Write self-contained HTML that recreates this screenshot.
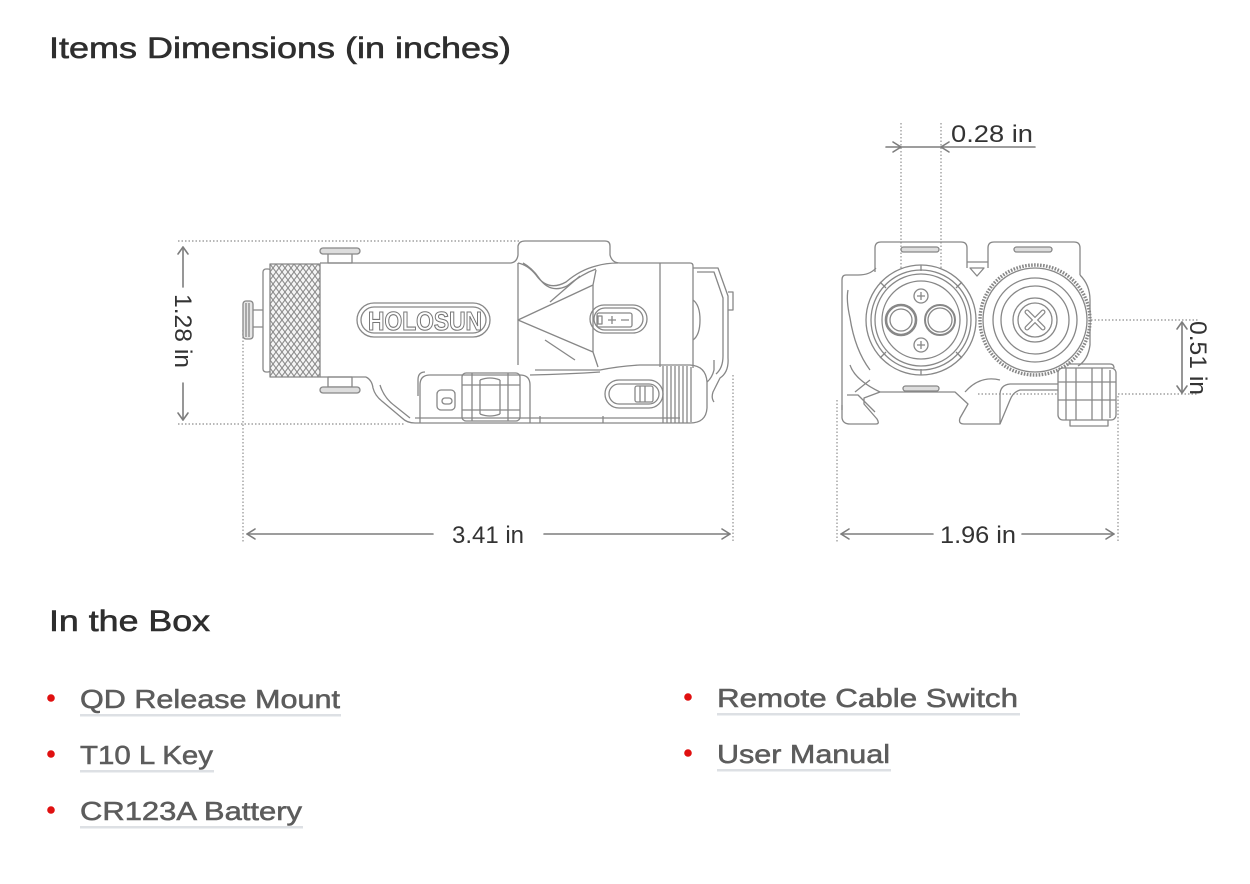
<!DOCTYPE html>
<html>
<head>
<meta charset="utf-8">
<style>
  html,body{margin:0;padding:0;background:#fff;}
  body{width:1250px;height:884px;overflow:hidden;}
  svg{display:block;}
</style>
</head>
<body>
<svg width="1250" height="884" viewBox="0 0 1250 884" xmlns="http://www.w3.org/2000/svg">
  <defs>
    <pattern id="knurl" patternUnits="userSpaceOnUse" width="6" height="8">
      <rect width="6" height="8" fill="#f4f4f4"/>
      <path d="M0,0 L6,8 M6,0 L0,8" stroke="#8a8a8a" stroke-width="1.1" fill="none"/>
    </pattern>
  </defs>

  <!-- Headings -->
  <text x="49" y="58" font-family="Liberation Sans, sans-serif" font-size="30" fill="#2e2e2e" stroke="#2e2e2e" stroke-width="0.6" textLength="462" lengthAdjust="spacingAndGlyphs">Items Dimensions (in inches)</text>
  <text x="49" y="631" font-family="Liberation Sans, sans-serif" font-size="30" fill="#2e2e2e" stroke="#2e2e2e" stroke-width="0.6" textLength="161" lengthAdjust="spacingAndGlyphs">In the Box</text>

  <!-- List -->
  <g font-family="Liberation Sans, sans-serif" font-size="26" fill="#5c5c5c" stroke="#5c5c5c" stroke-width="0.55">
    <text x="80" y="708" textLength="260" lengthAdjust="spacingAndGlyphs">QD Release Mount</text>
    <text x="80" y="764" textLength="133" lengthAdjust="spacingAndGlyphs">T10 L Key</text>
    <text x="80" y="820" textLength="222" lengthAdjust="spacingAndGlyphs">CR123A Battery</text>
    <text x="717" y="707" textLength="301" lengthAdjust="spacingAndGlyphs">Remote Cable Switch</text>
    <text x="717" y="763" textLength="173" lengthAdjust="spacingAndGlyphs">User Manual</text>
  </g>
  <g fill="#dde0e4">
    <rect x="80" y="714" width="261" height="2.5"/>
    <rect x="80" y="770" width="134" height="2.5"/>
    <rect x="80" y="826" width="223" height="2.5"/>
    <rect x="717" y="713" width="303" height="2.5"/>
    <rect x="717" y="769" width="174" height="2.5"/>
  </g>
  <g fill="#e01010">
    <circle cx="51" cy="698" r="3.8"/>
    <circle cx="51" cy="754" r="3.8"/>
    <circle cx="51" cy="810" r="3.8"/>
    <circle cx="688" cy="697" r="3.8"/>
    <circle cx="688" cy="753" r="3.8"/>
  </g>

  <!-- ============ DIMENSION LINES ============ -->
  <g stroke="#a0a0a0" stroke-width="1.4" stroke-dasharray="1.5 2" fill="none">
    <path d="M178,241 H520"/>
    <path d="M178,424 H405"/>
    <path d="M243,330 V543"/>
    <path d="M733,375 V543"/>
    <path d="M901,123 V320"/>
    <path d="M941,123 V320"/>
    <path d="M900,320 H955"/>
    <path d="M1084,320 H1198"/>
    <path d="M978,394 H1198"/>
    <path d="M837,400 V543"/>
    <path d="M1118,396 V543"/>
  </g>

  <g stroke="#7d7d7d" stroke-width="1.6" fill="none" stroke-linecap="round" stroke-linejoin="round">
    <path d="M183,247 V287"/>
    <path d="M178,254 L183,247 L188,254"/>
    <path d="M183,383 V420"/>
    <path d="M178,413 L183,420 L188,413"/>
    <path d="M247,534 H433"/>
    <path d="M255,529 L247,534 L255,539"/>
    <path d="M544,534 H730"/>
    <path d="M722,529 L730,534 L722,539"/>
    <path d="M886,147 H1035"/>
    <path d="M893,142 L901,147 L893,152"/>
    <path d="M949,142 L941,147 L949,152"/>
    <path d="M1182,322 V393"/>
    <path d="M1177,329 L1182,322 L1187,329"/>
    <path d="M1177,386 L1182,393 L1187,386"/>
    <path d="M841,534 H933"/>
    <path d="M849,529 L841,534 L849,539"/>
    <path d="M1022,534 H1114"/>
    <path d="M1106,529 L1114,534 L1106,539"/>
  </g>

  <g font-family="Liberation Sans, sans-serif" font-size="24" fill="#333">
    <text x="452" y="543" textLength="72" lengthAdjust="spacingAndGlyphs">3.41 in</text>
    <text x="940" y="543" textLength="76" lengthAdjust="spacingAndGlyphs">1.96 in</text>
    <text x="951" y="142" textLength="82" lengthAdjust="spacingAndGlyphs">0.28 in</text>
    <g transform="translate(175,331) rotate(90)">
      <text x="0" y="0" text-anchor="middle" textLength="74" lengthAdjust="spacingAndGlyphs">1.28 in</text>
    </g>
    <g transform="translate(1190,358) rotate(90)">
      <text x="0" y="0" text-anchor="middle" textLength="74" lengthAdjust="spacingAndGlyphs">0.51 in</text>
    </g>
  </g>

  <!-- ============ LEFT DEVICE (side view) ============ -->
  <g stroke="#878787" stroke-width="1.3" fill="none" stroke-linejoin="round">
    <rect x="243" y="301" width="10" height="38" rx="3" fill="#e6e6e6"/>
    <path d="M246,303 V337 M249,303 V337"/>
    <path d="M253,310 H263 M253,327 H263"/>
    <rect x="263" y="269" width="8" height="103" rx="3" fill="#fff"/>
    <rect x="270" y="264" width="50" height="113" fill="url(#knurl)"/>
    <rect x="328" y="253" width="24" height="10" fill="#fff"/>
    <rect x="320" y="248" width="40" height="6" rx="3" fill="#ddd"/>
    <rect x="328" y="377" width="24" height="10" fill="#fff"/>
    <rect x="320" y="387" width="40" height="6" rx="3" fill="#ddd"/>
    <path d="M320,263 H511 Q517,262 518,255 V246 Q519,241 525,241 H605 Q610,241 610,246 V255 Q612,263 620,263 H690 Q693,263 693,266 V368"/>
    <path d="M320,377 H366"/>
    <path d="M518,263 V365"/>
    <path d="M660,263 V367"/>
    <path d="M518,263 Q528,265 536,275 Q548,292 566,282 Q580,270 596,266 Q606,263 618,263"/>
    <path d="M523,263 Q532,268 539,278 Q550,294 567,286 Q582,274 596,269"/>
    <path d="M596,270 L593,285 L518,320 L593,352 L598,367"/>
    <path d="M593,285 V352"/>
    <path d="M580,276 L550,302 M575,360 L545,340"/>
    <rect x="357" y="303" width="133" height="34" rx="17"/>
    <rect x="361" y="307" width="125" height="26" rx="13"/>
    <rect x="590" y="305" width="57" height="28" rx="14"/>
    <rect x="594" y="308" width="49" height="22" rx="11"/>
    <rect x="597" y="313" width="35" height="14" rx="2"/>
    <rect x="598" y="316" width="4" height="8"/>
    <path d="M608,320 H616 M612,316 V324 M621,320 H629"/>
    <path d="M693,268 H718 L728,296 V358 Q729,372 720,378 L713,392 Q711,398 714,402"/>
    <path d="M697,272 H714 L723,298 V356 Q723,368 716,374"/>
    <path d="M728,292 H733 V310 H728"/>
    <path d="M693,300 Q700,305 700,320 Q700,335 693,340"/>
    <path d="M366,377 Q372,380 373,388 Q375,396 383,402 L402,418 Q407,423 415,423 H690 Q706,423 707,408 V382 Q706,366 690,365 H640 Q620,366 600,370 H535"/>
    <path d="M380,385 Q384,398 395,406 L410,418"/>
    <path d="M415,418 H680"/>
    <path d="M420,423 V385 Q420,375 430,375 H520 Q530,375 530,385 V423"/>
    <path d="M425,372 Q418,372 418,380 V396"/>
    <rect x="437" y="390" width="18" height="20" rx="4"/>
    <rect x="442" y="398" width="10" height="6" rx="3"/>
    <rect x="462" y="373" width="58" height="48" rx="4"/>
    <path d="M472,373 V421 M480,380 V414 M500,380 V414 M508,373 V421"/>
    <path d="M480,380 Q490,376 500,380 M480,414 Q490,418 500,414"/>
    <path d="M462,385 H520 M462,410 H520"/>
    <path d="M530,375 Q570,374 600,372"/>
    <rect x="605" y="380" width="58" height="28" rx="14"/>
    <rect x="609" y="384" width="50" height="20" rx="10"/>
    <rect x="635" y="386" width="18" height="16" rx="2"/>
    <path d="M640,386 V402 M645,386 V402"/>
    <path d="M663,366 V423 M667,366 V423 M671,366 V423 M675,366 V423 M679,366 V423 M683,366 V423 M687,366 V423 M691,367 V422"/>
    <path d="M707,382 Q712,378 714,370 V360"/>
    <path d="M603,423 V416 M540,423 V416"/>
  </g>
  <text x="368" y="330" font-family="Liberation Sans, sans-serif" font-weight="bold" font-size="26" fill="#fff" stroke="#777" stroke-width="1.1" textLength="114" lengthAdjust="spacingAndGlyphs">HOLOSUN</text>

  <!-- ============ RIGHT DEVICE (front view) ============ -->
  <g stroke="#878787" stroke-width="1.3" fill="none" stroke-linejoin="round">
    <path d="M875,272 V248 Q875,242 881,242 H961 Q967,242 967,248 V268"/>
    <path d="M988,268 V248 Q988,242 994,242 H1074 Q1080,242 1080,248 V275"/>
    <path d="M967,262 H988"/>
    <path d="M970,268 L977,276 L984,268 Z"/>
    <rect x="901" y="247" width="38" height="5" rx="2.5" fill="#ddd"/>
    <rect x="1014" y="247" width="38" height="5" rx="2.5" fill="#ddd"/>
    <path d="M876,268 Q870,275 858,275 H846 Q842,275 842,280 V410"/>
    <path d="M1080,275 Q1090,285 1090,300 V345 Q1088,360 1078,366"/>
    <path d="M848,290 Q846,300 850,318 Q855,350 870,370"/>
    <path d="M850,365 Q855,380 880,392"/>
    <path d="M965,392 Q980,375 1000,380"/>
    <circle cx="921" cy="320" r="55" fill="#fff"/>
    <circle cx="921" cy="320" r="50"/>
    <circle cx="921" cy="320" r="46"/>
    <circle cx="921" cy="320" r="39"/>
    <path d="M880,282 L886,288 M962,282 L956,288 M880,358 L886,352 M962,358 L956,352 M921,265 V271 M921,369 V375"/>
    <circle cx="901" cy="320" r="15" stroke-width="2.6"/>
    <circle cx="901" cy="320" r="11"/>
    <circle cx="940" cy="320" r="15" stroke-width="2"/>
    <circle cx="940" cy="320" r="12"/>
    <circle cx="921" cy="296" r="7"/>
    <path d="M917,296 H925 M921,292 V300"/>
    <circle cx="921" cy="345" r="7"/>
    <path d="M917,345 H925 M921,341 V349"/>
    <circle cx="1035" cy="320" r="55" fill="#fff" stroke-width="3.4" stroke-dasharray="1.6 1.4"/>
    <circle cx="1035" cy="320" r="52"/>
    <circle cx="1035" cy="320" r="42"/>
    <circle cx="1035" cy="320" r="34"/>
    <circle cx="1035" cy="320" r="22"/>
    <circle cx="1035" cy="320" r="17"/>
    <path d="M1027,312 L1043,328 M1043,312 L1027,328" stroke-width="5" stroke="#888" stroke-linecap="round"/>
    <path d="M1027,312 L1043,328 M1043,312 L1027,328" stroke-width="2.6" stroke="#fff" stroke-linecap="round"/>
    <path d="M842,405 V418 Q843,424 850,424 H876 Q880,424 877,419 L864,404 V398 L880,392 H955 L968,404 L960,418 Q958,424 964,424 H1000 L1010,400 Q1013,392 1020,390 H1060"/>
    <path d="M855,392 L870,380"/>
    <path d="M847,395 H858 L875,412"/>
    <path d="M1000,424 V395 Q1000,385 1010,384 H1060"/>
    <rect x="903" y="386" width="36" height="5" rx="2.5" fill="#ddd"/>
    <rect x="1058" y="368" width="58" height="52" rx="5" fill="#fff"/>
    <path d="M1066,368 V420 M1076,368 V420 M1092,368 V420 M1102,368 V420 M1110,370 V418"/>
    <path d="M1058,382 H1116 M1058,400 H1116"/>
    <path d="M1068,364 H1110 Q1114,364 1114,368"/>
    <path d="M1070,420 V426 H1108 V420"/>
  </g>
</svg>
</body>
</html>
